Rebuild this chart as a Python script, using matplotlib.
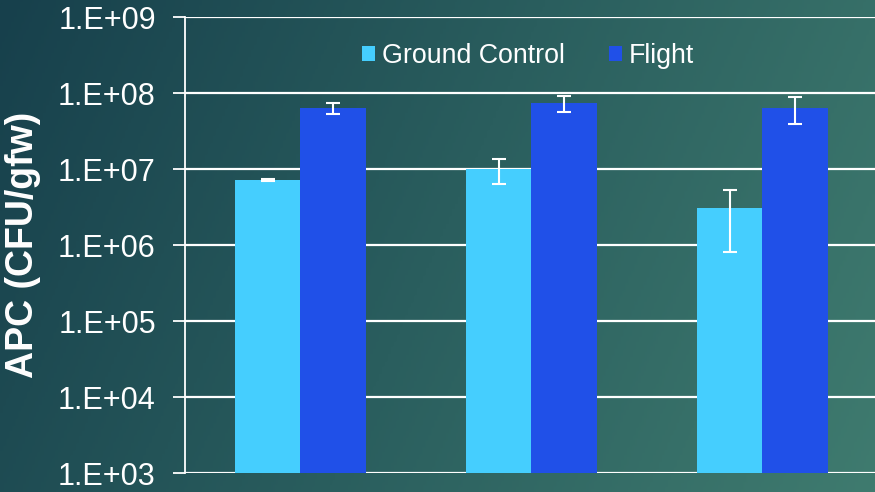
import numpy as np
import matplotlib
matplotlib.use("Agg")
import matplotlib.pyplot as plt
from matplotlib.colors import LinearSegmentedColormap

plt.rcParams['font.family'] = ['Liberation Sans', 'DejaVu Sans']

# Données
groupes = ["A", "B", "C"]
ground_control = [7.2e6, 1.0e7, 3.05e6]
ground_err = [0.15e6, 3.7e6, 2.25e6]
flight = [6.4e7, 7.3e7, 6.4e7]
flight_err = [1.1e7, 1.7e7, 2.5e7]
ticks_y = [1e3, 1e4, 1e5, 1e6, 1e7, 1e8, 1e9]
labels_y = ["1.E+03", "1.E+04", "1.E+05", "1.E+06", "1.E+07", "1.E+08", "1.E+09"]

couleur_gc = "#45CEFE"
couleur_fl = "#2050E8"

fig = plt.figure(figsize=(8.75, 4.92), dpi=100)

# Fond en dégradé
fond = fig.add_axes([0, 0, 1, 1], zorder=-10)
cmap = LinearSegmentedColormap.from_list("fond", ["#17404C", "#2A5E5E", "#3F7B6F"])
xx, yy = np.meshgrid(np.linspace(0, 1, 300), np.linspace(0, 1, 200))
grad = 0.8 * xx + 0.2 * yy
fond.imshow(grad, cmap=cmap, aspect="auto", extent=[0, 1, 0, 1], origin="upper")
fond.axis("off")

ax = fig.add_axes([0.2114, 0.0386, 0.792, 0.9268])
ax.patch.set_alpha(0)

x = np.arange(len(groupes))
w = 0.285
ax.bar(x - w / 2, ground_control, width=w, color=couleur_gc, label="Ground Control", zorder=3)
ax.bar(x + w / 2, flight, width=w, color=couleur_fl, label="Flight", zorder=3)
ax.errorbar(x - w / 2, ground_control, yerr=ground_err, fmt="none", ecolor="white",
            elinewidth=1.5, capsize=4.7, capthick=1.5, zorder=4)
ax.errorbar(x + w / 2, flight, yerr=flight_err, fmt="none", ecolor="white",
            elinewidth=1.5, capsize=4.7, capthick=1.5, zorder=4)

ax.set_yscale("log")
ax.set_ylim(1e3, 1e9)
ax.set_xlim(-0.5, 2.5)
ax.set_yticks(ticks_y)
ax.set_yticklabels(labels_y)
ax.minorticks_off()
ax.set_xticks([])
ax.tick_params(axis="y", colors="white", labelsize=22, length=9, width=1.3, direction="out", pad=12)
ax.yaxis.grid(True, color="white", linewidth=1.6, zorder=0)
for s in ["top", "right", "bottom"]:
    ax.spines[s].set_visible(False)
ax.spines["left"].set_color("white")
ax.spines["left"].set_linewidth(1.3)

fig.text(23.5 / 875, 0.502, "APC (CFU/gfw)", color="white", fontsize=27, fontweight="bold",
         rotation=90, ha="center", va="center")

leg = ax.legend(loc="center", bbox_to_anchor=(0.495, 0.915), ncol=2, frameon=False,
                fontsize=19.3, handlelength=0.49, handleheight=0.49, handletextpad=0.24,
                columnspacing=1.65)
for t in leg.get_texts():
    t.set_color("white")

fig.savefig("out.png", dpi=100)
